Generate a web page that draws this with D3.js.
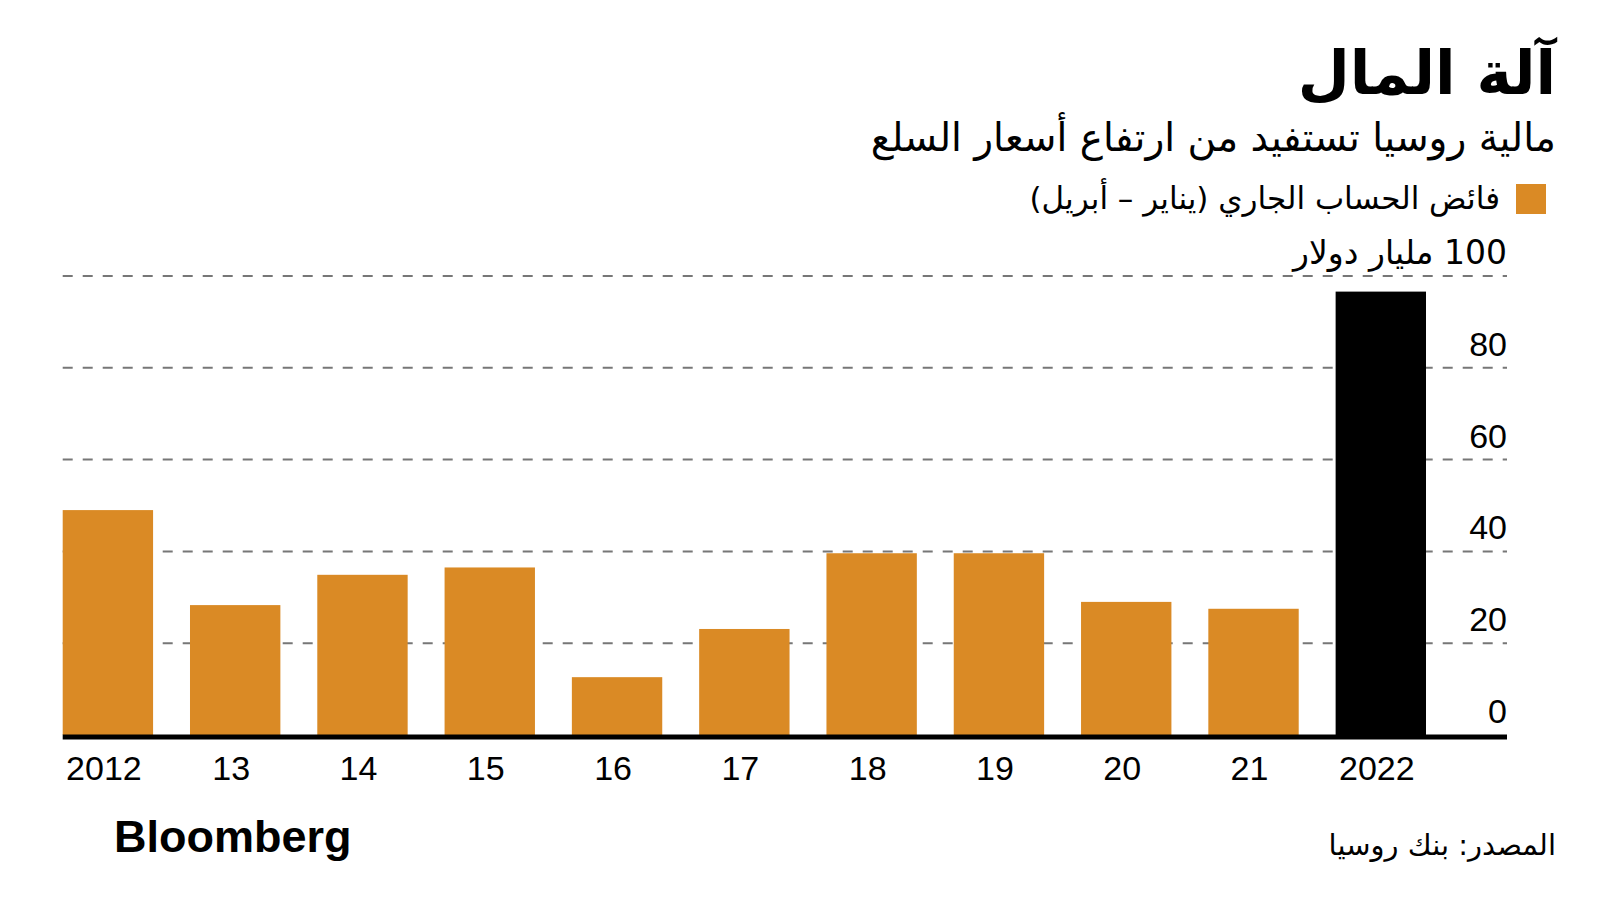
<!DOCTYPE html>
<html>
<head>
<meta charset="utf-8">
<script src="https://cdn.jsdelivr.net/npm/d3@7"></script>
<style>
  body { margin: 0; background: #fff; }
  svg { display: block; }
  .num { font-family: "Liberation Sans", Arial, sans-serif; }
  .ar { font-family: "DejaVu Sans", "Noto Sans", sans-serif; }
</style>
</head>
<body>
<div id="viz"></div>
<script>
"use strict";
(function(){
    // data
    const years = ["2012", "2013", "2014", "2015", "2016", "2017", "2018", "2019", "2020", "2021", "2022"]
    const yearLabels = ["2012", "13", "14", "15", "16", "17", "18", "19", "20", "21", "2022"]
    const surplus = [49.0, 28.3, 34.9, 36.5, 12.6, 23.1, 39.6, 39.6, 29.0, 27.5, 96.6]
    const yTicks = [0, 20, 40, 60, 80, 100]
    const yTickLabels = ["0", "20", "40", "60", "80", "100 مليار دولار"]

    const title = "آلة المال"
    const subtitle = "مالية روسيا تستفيد من ارتفاع أسعار السلع"
    const legendLabel = "فائض الحساب الجاري (يناير – أبريل)"
    const source = "المصدر: بنك روسيا"

    const measurements = {
        width: 1600,
        height: 900,
        left: 62.7,
        barsRight: 1426,
        axisRight: 1507,
        top: 276,
        bottom: 735
    }
    const colors = {
        bar: "#DA8A25",
        highlight: "#000000",
        grid: "#777777"
    }

    const data = years.map((y, i) => ({year: y, label: yearLabels[i], value: surplus[i]}))

    const svg = d3.select('#viz').append("svg")
        .attr('width', measurements.width)
        .attr('height', measurements.height)

    const x = d3.scaleBand()
        .domain(years)
        .range([measurements.left, measurements.barsRight])
        .paddingInner(0.29)
        .paddingOuter(0)

    const y = d3.scaleLinear()
        .domain([0, 100])
        .range([measurements.bottom, measurements.top])

    // dashed gridlines
    svg.append('g')
        .selectAll('line')
        .data(yTicks.filter(d => d > 0))
        .enter()
        .append('line')
            .attr('x1', measurements.left)
            .attr('x2', measurements.axisRight)
            .attr('y1', d => y(d))
            .attr('y2', d => y(d))
            .attr('stroke', colors.grid)
            .attr('stroke-width', 2)
            .attr('stroke-dasharray', '10,10')

    // bars
    svg.append('g')
        .selectAll('rect')
        .data(data)
        .enter()
        .append('rect')
            .attr('x', d => x(d.year))
            .attr('width', x.bandwidth())
            .attr('y', d => y(d.value))
            .attr('height', d => y(0) - y(d.value))
            .attr('fill', (d, i) => i === data.length - 1 ? colors.highlight : colors.bar)

    // baseline
    svg.append('line')
        .attr('x1', measurements.left)
        .attr('x2', measurements.axisRight)
        .attr('y1', y(0) + 2)
        .attr('y2', y(0) + 2)
        .attr('stroke', '#000')
        .attr('stroke-width', 5)

    // y tick labels, right aligned
    svg.append('g')
        .selectAll('text')
        .data(yTicks)
        .enter()
        .append('text')
            .attr('class', (d, i) => i === yTicks.length - 1 ? 'ar' : 'num')
            .attr('x', measurements.axisRight)
            .attr('y', d => y(d) - 12)
            .attr('direction', 'rtl')
            .attr('text-anchor', 'start')
            .attr('font-size', (d, i) => i === yTicks.length - 1 ? 33 : 34)
            .attr('fill', '#000')
            .text((d, i) => yTickLabels[i])

    // x labels
    svg.append('g')
        .selectAll('text')
        .data(data)
        .enter()
        .append('text')
            .attr('class', 'num')
            .attr('x', d => x(d.year) + x.bandwidth() / 2 - 4)
            .attr('y', 780)
            .attr('text-anchor', 'middle')
            .attr('font-size', 34)
            .attr('fill', '#000')
            .text(d => d.label)

    // title block
    svg.append('text')
        .attr('class', 'ar')
        .attr('x', 1556)
        .attr('y', 94)
        .attr('direction', 'rtl')
        .attr('text-anchor', 'start')
        .attr('font-size', 60)
        .attr('font-weight', 'bold')
        .attr('fill', '#000')
        .text(title)

    svg.append('text')
        .attr('class', 'ar')
        .attr('x', 1556)
        .attr('y', 151)
        .attr('direction', 'rtl')
        .attr('text-anchor', 'start')
        .attr('font-size', 39)
        .attr('fill', '#000')
        .text(subtitle)

    // legend
    svg.append('rect')
        .attr('x', 1516)
        .attr('y', 184)
        .attr('width', 30)
        .attr('height', 30)
        .attr('fill', colors.bar)

    svg.append('text')
        .attr('class', 'ar')
        .attr('x', 1500)
        .attr('y', 209)
        .attr('direction', 'rtl')
        .attr('text-anchor', 'start')
        .attr('font-size', 31)
        .attr('fill', '#000')
        .text(legendLabel)

    // footer
    svg.append('text')
        .attr('class', 'num')
        .attr('x', 114)
        .attr('y', 852)
        .attr('font-size', 45)
        .attr('font-weight', 'bold')
        .attr('letter-spacing', 0)
        .attr('fill', '#000')
        .text('Bloomberg')

    svg.append('text')
        .attr('class', 'ar')
        .attr('x', 1556)
        .attr('y', 855)
        .attr('direction', 'rtl')
        .attr('text-anchor', 'start')
        .attr('font-size', 29)
        .attr('fill', '#000')
        .text(source)
})()
</script>
</body>
</html>
